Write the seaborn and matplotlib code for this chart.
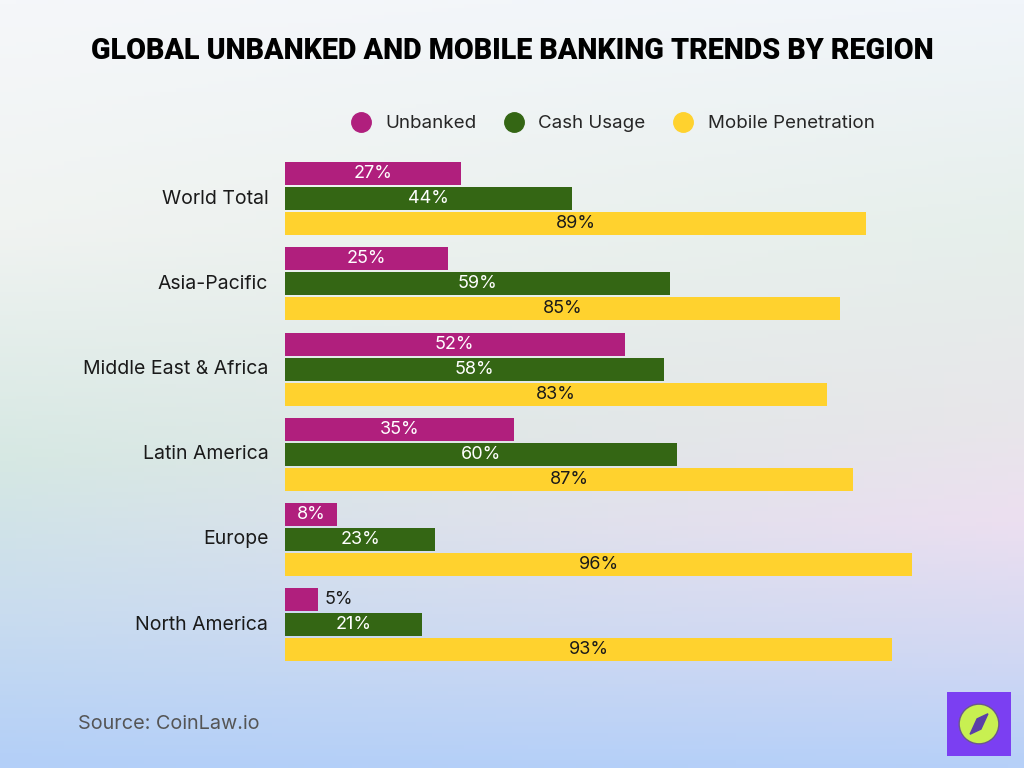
import matplotlib.pyplot as plt
import seaborn as sns
import pandas as pd
import numpy as np
from matplotlib.lines import Line2D
from matplotlib.patches import Rectangle, Circle, Polygon
from matplotlib.colors import to_rgb

regions = ['World Total', 'Asia-Pacific', 'Middle East & Africa', 'Latin America', 'Europe', 'North America']
unbanked = [27, 25, 52, 35, 8, 5]
cash_usage = [44, 59, 58, 60, 23, 21]
mobile = [89, 85, 83, 87, 96, 93]
series = ['Unbanked', 'Cash Usage', 'Mobile Penetration']
colors = ['#B01F7D', '#346614', '#FFD22E']
label_colors = ['white', 'white', '#1a1a1a']

df = pd.DataFrame({'Region': regions, 'Unbanked': unbanked,
                   'Cash Usage': cash_usage, 'Mobile Penetration': mobile})
long_df = df.melt(id_vars='Region', var_name='Series', value_name='Value')

sns.set_theme(style='white')
plt.rcParams['font.family'] = ['Inter', 'DejaVu Sans']

fig = plt.figure(figsize=(10.24, 7.68), dpi=100)

# background gradient (left and right vertical gradients blended)
bg = fig.add_axes([0, 0, 1, 1], zorder=-10)
H = 200
left_stops = [(0.0, '#f5f7fa'), (0.3, '#f0f3f1'), (0.6, '#d6e8e3'), (0.8, '#c9dcef'), (1.0, '#b3cff8')]
right_stops = [(0.0, '#f1f5fa'), (0.3, '#e6efeb'), (0.55, '#e8e6ea'), (0.68, '#ecdff0'), (0.85, '#d2d8f3'), (1.0, '#b6d0f8')]


def grad(stops):
    t = np.linspace(0, 1, H)
    pos = [s[0] for s in stops]
    cols = np.array([to_rgb(s[1]) for s in stops])
    return np.stack([np.interp(t, pos, cols[:, i]) for i in range(3)], axis=1)


lg, rg = grad(left_stops), grad(right_stops)
xs = np.linspace(0, 1, 64)
img = lg[:, None, :] * (1 - xs[None, :, None]) + rg[:, None, :] * xs[None, :, None]
bg.imshow(img, aspect='auto', extent=[0, 1, 0, 1], origin='upper')
bg.axis('off')

ax = fig.add_axes([285 / 1024, 0.12, (938 - 285) / 1024, 0.688])
ax.patch.set_alpha(0)
sns.barplot(data=long_df, y='Region', x='Value', hue='Series', hue_order=series,
            palette=colors, orient='h', width=0.88, ax=ax, legend=False,
            saturation=1, linewidth=0)

for container, lc in zip(ax.containers, label_colors):
    for patch in container:
        h = patch.get_height()
        patch.set_y(patch.get_y() + h * 0.04)
        patch.set_height(h * 0.92)
        patch.set_edgecolor('none')
        val = patch.get_width()
        yc = patch.get_y() + patch.get_height() / 2
        if val < 7:
            ax.text(val + 1, yc, f'{val:.0f}%', ha='left', va='center',
                    fontsize=13, color='#1a1a1a')
        else:
            ax.text(val / 2, yc, f'{val:.0f}%', ha='center', va='center',
                    fontsize=13, color=lc)

ax.set_xlim(0, 100)
ax.set_ylim(5.6, -0.6)
ax.set_xlabel('')
ax.set_ylabel('')
ax.set_xticks([])
ax.set_yticks(range(len(regions)))
ax.set_yticklabels(regions, va='center')
for lab in ax.get_yticklabels():
    lab.set_y(lab.get_position()[1])
ax.tick_params(axis='y', length=0, pad=12, labelsize=14, labelcolor='#1a1a1a')
sns.despine(ax=ax, left=True, bottom=True)

title = fig.text(0.5, 0.934, 'GLOBAL UNBANKED AND MOBILE BANKING TRENDS BY REGION',
                 ha='center', va='center', fontsize=24, fontweight='black',
                 family=['Roboto', 'DejaVu Sans'], color='black')
# fit the title to the reference width (~847 px)
renderer = fig.canvas.get_renderer()
tw = title.get_window_extent(renderer).width
title.set_fontsize(24 * 847 / tw)

handles = [Line2D([0], [0], marker='o', linestyle='', markersize=14,
                  markerfacecolor=c, markeredgecolor=c) for c in colors]
fig.legend(handles, series, loc='center', bbox_to_anchor=(0.594, 0.839), ncol=3,
           frameon=False, fontsize=13.5, handletextpad=0.3, columnspacing=1.0)

fig.text(78 / 1024, 1 - 724 / 768, 'Source: CoinLaw.io', ha='left', va='center',
         fontsize=14.3, color='#555555')

# logo
lax = fig.add_axes([947 / 1024, 1 - 756 / 768, 64 / 1024, 64 / 768])
lax.set_xlim(0, 1)
lax.set_ylim(0, 1)
lax.axis('off')
lax.add_patch(Rectangle((0, 0), 1, 1, color='#7B3FF2'))
lax.add_patch(Circle((0.5, 0.5), 0.31, facecolor='#C8F051', edgecolor='#6a5a8a', linewidth=1))
lax.add_patch(Polygon([(0.36, 0.34), (0.47, 0.58), (0.64, 0.66), (0.53, 0.42)], color='#5a3fa8'))

fig.savefig('out.png', dpi=100)
